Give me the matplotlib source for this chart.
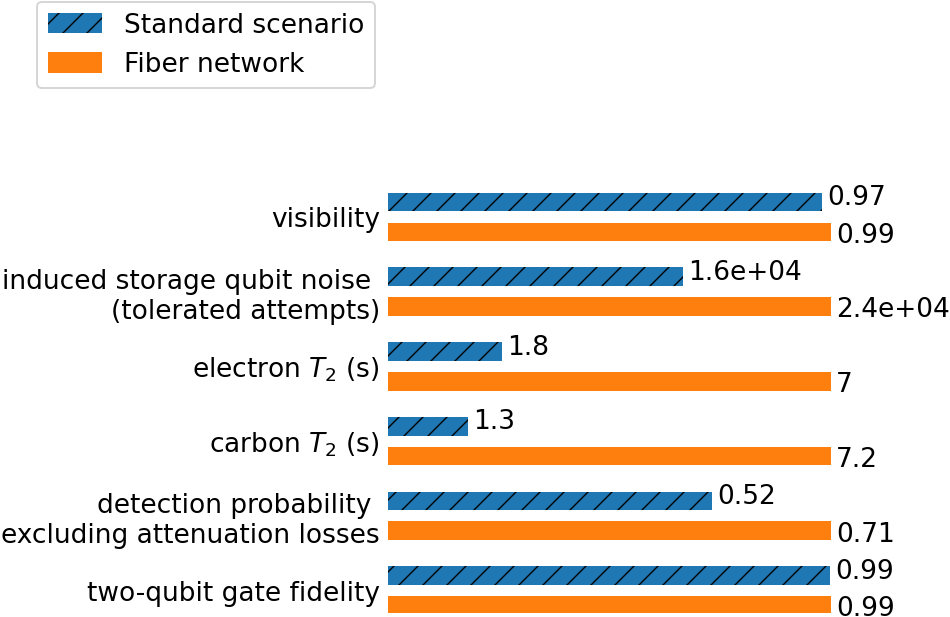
import numpy as np
import matplotlib
matplotlib.use('Agg')
import matplotlib.pyplot as plt

# parameter values for the two scenarios (top to bottom)
params = ['visibility',
          'induced storage qubit noise \n(tolerated attempts)',
          r'electron $T_2$ (s)',
          r'carbon $T_2$ (s)',
          'detection probability \nexcluding attenuation losses',
          'two-qubit gate fidelity']
standard = [0.97, 16000, 1.8, 1.3, 0.52, 0.988]
fiber = [0.99, 24000, 7.0, 7.2, 0.71, 0.99]

plt.rcParams['font.size'] = 13.2
plt.rcParams['hatch.linewidth'] = 0.7

fig = plt.figure(figsize=(950/144, 617/144), dpi=144)
ax = fig.add_axes([388/950, 4/617, 443/950, 426/617])

y = np.arange(len(params))
std = np.array(standard)
fib = np.array(fiber)
# bar length relative to fiber network value
ax.barh(y - 0.2, std/fib, height=0.25, color='tab:blue', hatch='//',
        label='Standard scenario')
ax.barh(y + 0.2, fib/fib, height=0.25, color='tab:orange',
        label='Fiber network')

for i in range(len(params)):
    ax.annotate('{:.2g}'.format(std[i]), (std[i]/fib[i], y[i] - 0.25),
                xytext=(2.5, 0), textcoords='offset points',
                va='center', ha='left')
    ax.annotate('{:.2g}'.format(fib[i]), (1.0, y[i] + 0.25),
                xytext=(2.5, 0), textcoords='offset points',
                va='center', ha='left')

ax.set_yticks(y)
ax.set_yticklabels(params)
ax.set_xticks([])
ax.set_xlim(0, 1)
ax.set_ylim(5.3, -0.4)
ax.tick_params(axis='y', length=0, pad=4)
for s in ax.spines.values():
    s.set_visible(False)

fig.legend(loc='upper left', bbox_to_anchor=(37/950, 1 - 2/617),
           borderaxespad=0, handletextpad=0.85, borderpad=0.4,
           handleheight=0.8, handlelength=2.05)

fig.savefig('out.png', dpi=144)
